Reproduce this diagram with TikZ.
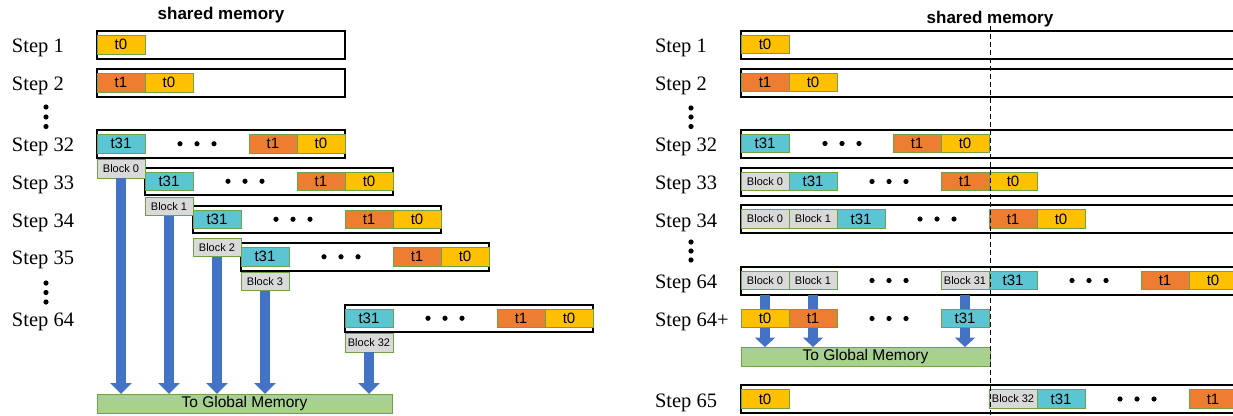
\documentclass[tikz,border=0pt]{standalone}
\usepackage{fontspec}
\setmainfont{Liberation Serif}
\newfontfamily\arialf{Liberation Sans}
\usetikzlibrary{arrows.meta}
\definecolor{tgold}{RGB}{255,192,0}
\definecolor{torange}{RGB}{237,125,49}
\definecolor{tcyan}{RGB}{91,197,212}
\definecolor{tgray}{RGB}{217,217,217}
\definecolor{cellline}{RGB}{112,160,72}
\definecolor{ablue}{RGB}{68,114,196}
\definecolor{ggreen}{RGB}{169,209,142}
\newcommand\rowdots[2]{\fill ([xshift=#2pt]#1.west) ++(-17,0) circle[radius=2.6pt] ++(17,0) circle[radius=2.6pt] ++(17,0) circle[radius=2.6pt];}
\begin{document}
\begin{tikzpicture}[x=1pt,y=-1pt,
  every node/.style={inner sep=0pt, outer sep=0pt},
  rowbox/.style={draw=black, line width=2pt, minimum height=27.5pt, anchor=north west},
  cellbox/.style={draw=cellline, line width=0.8pt, minimum width=48pt, minimum height=18.5pt, font=\arialf\fontsize{15}{15}\selectfont, anchor=west},
  c0/.style={cellbox, fill=tgold},
  c1/.style={cellbox, fill=torange},
  c31/.style={cellbox, fill=tcyan},
  blk/.style={cellbox, fill=tgray, font=\arialf\fontsize{11}{11}\selectfont},
  steplbl/.style={anchor=base west, yshift=-8pt, font=\fontsize{20.5}{22}\selectfont},
  gmbox/.style={draw=cellline, line width=0.8pt, fill=ggreen, font=\arialf\fontsize{15.5}{16}\selectfont, anchor=north west, minimum height=19pt},
  ttl/.style={font=\arialf\bfseries\fontsize{17}{18}\selectfont},
  bluearrow/.style={draw=ablue, line width=9.5pt, -{Triangle[width=21pt,length=11pt]}},
  bluearrowsm/.style={draw=ablue, line width=9.5pt, -{Triangle[width=20pt,length=9.5pt]}},
  blueshaft/.style={draw=ablue, line width=9.5pt},
  vdash/.style={draw=black, line width=0.8pt, dash pattern=on 5pt off 3pt}
]
\useasboundingbox (0,0) rectangle (1233,415);
\clip (0,0) rectangle (1233,415);

\coordinate (lx) at (12,0);
\coordinate (rx) at (655,0);

% ---------------- LEFT PANEL ----------------
\node[ttl] (ltitle) at (221,15.5) {shared memory};

\node[rowbox, minimum width=248pt] (L1) at (97,31) {};
\node[c0] (L1a) at (L1.west) {t0};
\node[steplbl] (ls1) at (lx |- L1.west) {Step 1};

\node[rowbox, minimum width=248pt] (L2) at (97,69) {};
\node[c1] (L2a) at (L2.west) {t1};
\node[c0] (L2b) at ([xshift=48pt]L2.west) {t0};
\node[steplbl] (ls2) at (lx |- L2.west) {Step 2};

\fill (46,107) circle[radius=2.6pt] (46,117) circle[radius=2.6pt] (46,126.5) circle[radius=2.6pt];

\foreach \nm/\px/\py/\lab in {L32/97/130/32, L33/145/167.5/33, L34/193/205.5/34, L35/241/243/35, L64/345/304.5/64}{
  \node[rowbox, minimum width=248pt] (\nm) at (\px,\py) {};
  \node[c31] (\nm a) at (\nm.west) {t31};
  \node[c1] (\nm b) at ([xshift=152pt]\nm.west) {t1};
  \node[c0] (\nm c) at ([xshift=200pt]\nm.west) {t0};
  \rowdots{\nm}{100}
  \node[steplbl] (ls\lab) at (lx |- \nm.west) {Step \lab};
}

\fill (46,283) circle[radius=2.6pt] (46,292.5) circle[radius=2.6pt] (46,302) circle[radius=2.6pt];

\node[blk, anchor=north west] (LB0) at (97,159.5) {Block 0};
\node[blk, anchor=north west] (LB1) at (145,197) {Block 1};
\node[blk, anchor=north west] (LB2) at (193,238) {Block 2};
\node[blk, anchor=north west] (LB3) at (241,272) {Block 3};
\node[blk, anchor=north west] (LB32) at (345,333.5) {Block 32};

\node[gmbox, minimum width=295pt] (LGM) at (97,394) {To Global Memory};

\foreach \b in {LB0,LB1,LB2,LB3,LB32}{
  \draw[bluearrow] (\b.south) -- (\b.south |- LGM.north);
}

% ---------------- RIGHT PANEL ----------------
\node[ttl] (rtitle) at (990,19.5) {shared memory};

\node[rowbox, minimum width=520pt, minimum height=28pt] (R1) at (741,30.5) {};
\node[c0] (R1a) at (R1.west) {t0};
\node[steplbl] (rs1) at (rx |- R1.west) {Step 1};

\node[rowbox, minimum width=520pt, minimum height=28pt] (R2) at (741,68.5) {};
\node[c1] (R2a) at (R2.west) {t1};
\node[c0] (R2b) at ([xshift=48pt]R2.west) {t0};
\node[steplbl] (rs2) at (rx |- R2.west) {Step 2};

\fill (691,108) circle[radius=2.6pt] (691,117) circle[radius=2.6pt] (691,126.5) circle[radius=2.6pt];

\node[rowbox, minimum width=520pt, minimum height=28pt] (R32) at (741,129.5) {};
\node[c31] (R32a) at (R32.west) {t31};
\node[c1] (R32b) at ([xshift=152pt]R32.west) {t1};
\node[c0] (R32c) at ([xshift=200pt]R32.west) {t0};
\rowdots{R32}{101}
\node[steplbl] (rs32) at (rx |- R32.west) {Step 32};

\node[rowbox, minimum width=520pt, minimum height=28pt] (R33) at (741,167.5) {};
\node[blk] (R33a) at (R33.west) {Block 0};
\node[c31] (R33b) at ([xshift=48pt]R33.west) {t31};
\node[c1] (R33c) at ([xshift=200pt]R33.west) {t1};
\node[c0] (R33d) at ([xshift=248pt]R33.west) {t0};
\rowdots{R33}{148}
\node[steplbl] (rs33) at (rx |- R33.west) {Step 33};

\node[rowbox, minimum width=520pt, minimum height=28pt] (R34) at (741,205) {};
\node[blk] (R34a) at (R34.west) {Block 0};
\node[blk] (R34b) at ([xshift=48pt]R34.west) {Block 1};
\node[c31] (R34c) at ([xshift=96pt]R34.west) {t31};
\node[c1] (R34d) at ([xshift=248pt]R34.west) {t1};
\node[c0] (R34e) at ([xshift=296pt]R34.west) {t0};
\rowdots{R34}{196}
\node[steplbl] (rs34) at (rx |- R34.west) {Step 34};

\fill (691,242) circle[radius=2.6pt] (691,251) circle[radius=2.6pt] (691,260) circle[radius=2.6pt];

\node[rowbox, minimum width=520pt, minimum height=28pt] (R64) at (741,266.5) {};
\node[blk] (R64a) at (R64.west) {Block 0};
\node[blk] (R64b) at ([xshift=48pt]R64.west) {Block 1};
\node[blk] (R64c) at ([xshift=200pt]R64.west) {Block 31};
\node[c31] (R64d) at ([xshift=248pt]R64.west) {t31};
\node[c1] (R64e) at ([xshift=400pt]R64.west) {t1};
\node[c0] (R64f) at ([xshift=448pt]R64.west) {t0};
\rowdots{R64}{148}
\rowdots{R64}{348}
\node[steplbl] (rs64) at (rx |- R64.west) {Step 64};

\coordinate (P) at (741,318.5);
\node[c0] (P0) at (P) {t0};
\node[c1] (P1) at ([xshift=48pt]P) {t1};
\node[c31] (P31) at ([xshift=200pt]P) {t31};
\rowdots{P0}{148}
\node[steplbl] (rs64p) at (rx |- P0.west) {Step 64+};

\node[gmbox, minimum width=249pt] (RGM) at (741,347) {To Global Memory};

\foreach \a/\b in {R64a/P0, R64b/P1, R64c/P31}{
  \draw[blueshaft] (\a.south |- R64.south) -- (\b.north);
  \draw[bluearrowsm] (\b.south) -- (\b.south |- RGM.north);
}

\node[rowbox, minimum width=520pt, minimum height=28pt] (R65) at (741,385) {};
\node[c0] (R65a) at (R65.west) {t0};
\node[blk] (R65b) at ([xshift=248pt]R65.west) {Block 32};
\node[c31] (R65c) at ([xshift=296pt]R65.west) {t31};
\node[c1] (R65d) at ([xshift=448pt]R65.west) {t1};
\rowdots{R65}{396}
\node[steplbl] (rs65) at (rx |- R65.west) {Step 65};

\coordinate (dtop) at (990,26);
\coordinate (dbot) at (990,415);
\draw[vdash] (dtop) -- (dbot);
\end{tikzpicture}
\end{document}
